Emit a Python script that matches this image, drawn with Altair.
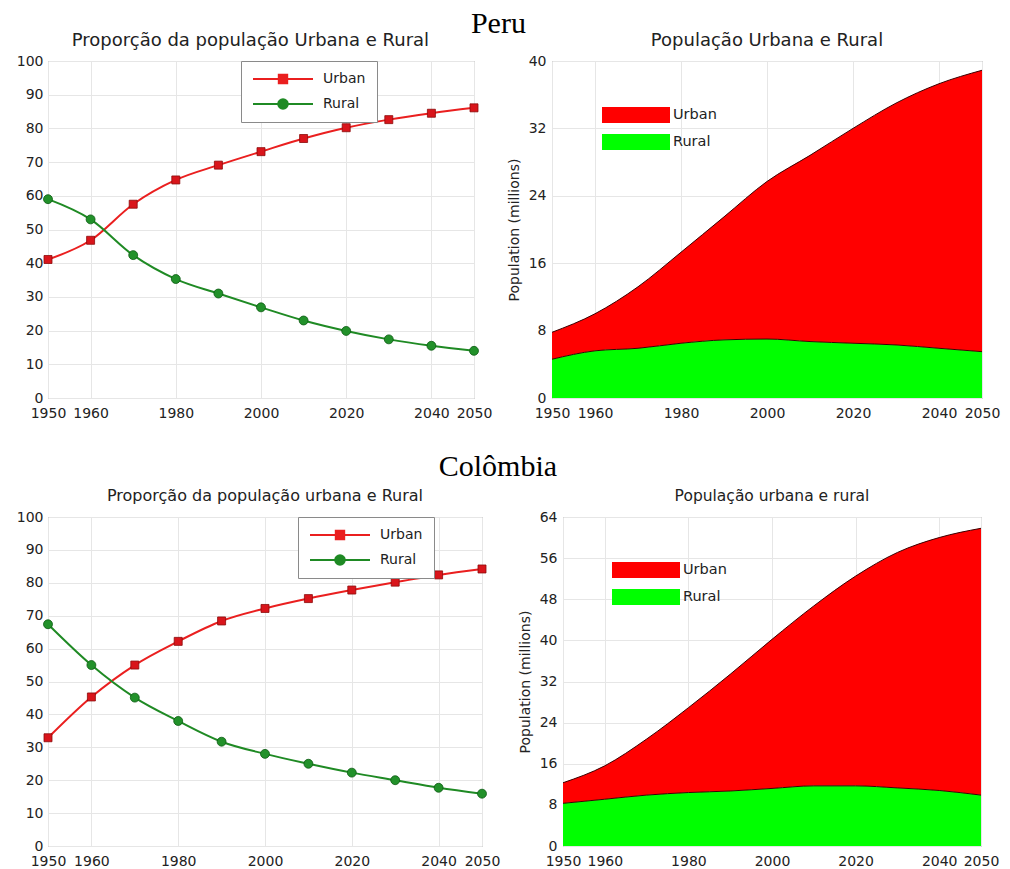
import altair as alt
import pandas as pd

years = [1950, 1960, 1970, 1980, 1990, 2000, 2010, 2020, 2030, 2040, 2050]
x_ticks = [1950, 1960, 1980, 2000, 2020, 2040, 2050]
series = ["Urban", "Rural"]

# Proportion (%)
peru_urban_pct = [41.1, 46.8, 57.5, 64.7, 69.1, 73.1, 77.0, 80.2, 82.6, 84.5, 86.1]
peru_rural_pct = [59.0, 53.0, 42.4, 35.3, 31.0, 26.9, 23.0, 19.9, 17.4, 15.5, 14.0]
col_urban_pct = [32.9, 45.3, 55.0, 62.2, 68.4, 72.2, 75.2, 77.8, 80.2, 82.4, 84.2]
col_rural_pct = [67.4, 55.0, 45.1, 38.0, 31.7, 28.0, 25.0, 22.3, 20.0, 17.7, 15.9]

# Population (millions)
peru_urban_pop = [3.2, 4.4, 7.3, 10.8, 14.6, 18.7, 22.1, 25.5, 28.7, 31.4, 33.4]
peru_rural_pop = [4.6, 5.6, 5.9, 6.5, 6.9, 7.0, 6.7, 6.5, 6.3, 5.9, 5.5]
col_urban_pop = [4.0, 6.5, 10.9, 16.5, 22.7, 29.0, 35.0, 40.8, 45.8, 49.2, 51.9]
col_rural_pop = [8.3, 9.1, 9.9, 10.4, 10.7, 11.2, 11.7, 11.7, 11.3, 10.8, 9.9]

RED_LINE = "#ea1f1f"
GREEN_LINE = "#1f8a24"
RED_MK = "#d9151b"
GREEN_MK = "#22912a"
RED_AREA = "#ff0000"
GREEN_AREA = "#00ff00"
FONT = "DejaVu Sans"

SQ_PATH = "M-1,0H1M-0.14,-0.14H0.14V0.14H-0.14Z"
CI_PATH = "M-1,0H1M0.16,0A0.16,0.16 0 1,1 -0.16,0A0.16,0.16 0 1,1 0.16,0Z"
RECT_PATH = "M-1,-0.235H1V0.235H-1Z"

INDEP = dict(fill="independent", stroke="independent", shape="independent", color="independent")


def make_df(urban, rural, name):
    return pd.DataFrame({
        "Ano": years + years,
        name: urban + rural,
        "Serie": ["Urban"] * len(years) + ["Rural"] * len(years),
        "ord": [1] * len(years) + [0] * len(years),
    })


def x_enc():
    return alt.X("Ano:Q", scale=alt.Scale(domain=[1950, 2050], nice=False, zero=False),
                 axis=alt.Axis(values=x_ticks, format="d", title=None, labelPadding=8,
                               labelOverlap=False, labelFlush=False))


def prop_chart(urban, rural, w, h, min_ext, leg_x):
    df = make_df(urban, rural, "Valor")
    base = alt.Chart(df)
    x = x_enc()
    y = alt.Y("Valor:Q", scale=alt.Scale(domain=[0, 100], nice=False),
              axis=alt.Axis(values=list(range(0, 101, 10)), title=None,
                            minExtent=min_ext, labelPadding=5))
    u = base.transform_filter("datum.Serie == 'Urban'")
    r = base.transform_filter("datum.Serie == 'Rural'")
    lu = u.mark_line(interpolate="monotone", color=RED_LINE, strokeWidth=2).encode(x=x, y=y)
    lr = r.mark_line(interpolate="monotone", color=GREEN_LINE, strokeWidth=2).encode(x=x, y=y)
    pu = u.mark_point(shape="square", filled=True, size=64, fill=RED_MK, stroke="#8b0a0a",
                      strokeWidth=0.8, opacity=1).encode(x=x, y=y)
    pr = r.mark_point(shape="circle", filled=True, size=80, fill=GREEN_MK, stroke="#0b5a12",
                      strokeWidth=0.8, opacity=1).encode(x=x, y=y)
    leg = alt.Legend(title=None, orient="none", legendX=leg_x, legendY=0, padding=11,
                     symbolSize=3600, clipHeight=14, rowPadding=11, labelOffset=9,
                     labelFontSize=14, labelFont=FONT, labelColor="#222",
                     strokeColor="#8a8a8a", fillColor="white", symbolStrokeWidth=2,
                     symbolOpacity=1)
    col_scale = alt.Scale(domain=series, range=[RED_LINE, GREEN_LINE])
    lg = base.transform_filter("false").mark_point(strokeWidth=2).encode(
        x=x, y=y,
        fill=alt.Fill("Serie:N", scale=col_scale, legend=leg),
        stroke=alt.Stroke("Serie:N", scale=col_scale, legend=leg),
        shape=alt.Shape("Serie:N", scale=alt.Scale(domain=series, range=[SQ_PATH, CI_PATH]), legend=leg),
    )
    return alt.layer(lu, lr, pu, pr, lg).properties(width=w, height=h)


def titled(chart, text, size, frame, offset):
    return chart.properties(title=alt.TitleParams(text, fontSize=size, font=FONT, fontWeight="normal",
                                                  frame=frame, offset=offset, color="#222"))


def pop_chart(urban, rural, ymax, w, h, leg_x, leg_y):
    df = make_df(urban, rural, "Pop")
    base = alt.Chart(df)
    x = x_enc()
    y_axis = alt.Axis(values=list(range(0, ymax + 1, 8)), title="Population (millions)",
                      minExtent=24, titlePadding=7, labelPadding=6)
    ys = alt.Y("Pop:Q", stack="zero", scale=alt.Scale(domain=[0, ymax], nice=False), axis=y_axis)
    leg = alt.Legend(title=None, orient="none", legendX=leg_x, legendY=leg_y, padding=0,
                     symbolType=RECT_PATH, symbolSize=4624, clipHeight=16, rowPadding=11,
                     labelOffset=3, labelFontSize=14.5, labelFont=FONT, labelColor="#222",
                     symbolStrokeWidth=0, symbolOpacity=1)
    area = base.mark_area(interpolate="monotone", opacity=1).encode(
        x=x, y=ys,
        fill=alt.Fill("Serie:N", scale=alt.Scale(domain=series, range=[RED_AREA, GREEN_AREA]), legend=leg),
        order=alt.Order("ord:Q"),
    )
    edge = base.mark_line(interpolate="monotone", color="#3a0000", strokeWidth=1).encode(
        x=x, y=ys, detail="Serie:N", order=alt.Order("ord:Q"),
    )
    return alt.layer(area, edge).properties(width=w, height=h)


tl = titled(prop_chart(peru_urban_pct, peru_rural_pct, 426, 337, 39, 193),
            "Proporção da população Urbana e Rural", 18, "bounds", 4)
tr = titled(pop_chart(peru_urban_pop, peru_rural_pop, 40, 430, 337, 50, 46),
            "População Urbana e Rural", 18, "group", 4)
bl = titled(prop_chart(col_urban_pct, col_rural_pct, 434, 329, 39, 250),
            "Proporção da população urbana e Rural", 16, "group", 6)
br = titled(pop_chart(col_urban_pop, col_rural_pop, 64, 418, 329, 49, 45),
            "População urbana e rural", 15.5, "group", 6)

sec = dict(font="Liberation Serif", fontSize=30, fontWeight="normal", anchor="middle",
           color="black", dx=-6)
row1 = alt.hconcat(tl, tr, spacing=13).properties(
    title=alt.TitleParams("Peru", offset=-7, **sec)
).resolve_scale(**INDEP).resolve_legend(**INDEP)
row2 = alt.hconcat(bl, br, spacing=16).properties(
    title=alt.TitleParams("Colômbia", offset=6, **sec)
).resolve_scale(**INDEP).resolve_legend(**INDEP)

chart = alt.vconcat(row1, row2, spacing=30).properties(
    padding={"left": 0, "top": 0, "right": 0, "bottom": 0}
).resolve_scale(**INDEP).resolve_legend(**INDEP).configure_view(
    stroke="#8c8c8c", strokeWidth=1
).configure_axis(
    grid=True, gridColor="#e6e6e6", domain=False, ticks=False,
    labelFont=FONT, labelFontSize=14, labelColor="#222",
    titleFont=FONT, titleFontSize=14, titleFontWeight="normal", titleColor="#222",
)

chart.save("out.html", embed_options={"renderer": "svg", "actions": False})
